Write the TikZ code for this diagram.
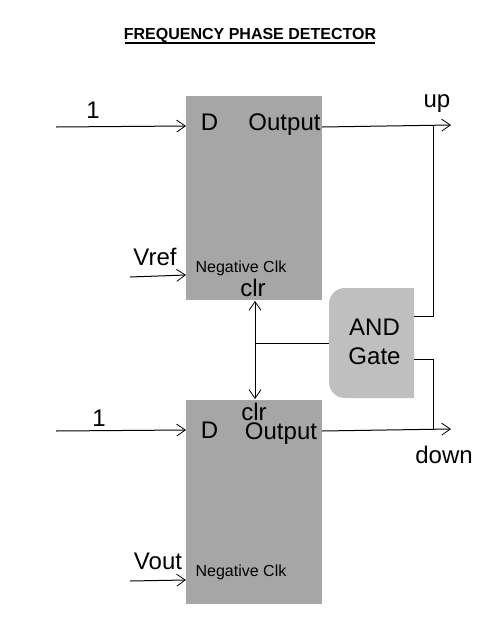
\documentclass[tikz,border=0pt]{standalone}
\usepackage{fontspec}
\setmainfont{Liberation Sans}
\usetikzlibrary{arrows.meta}
\definecolor{ffgray}{HTML}{A6A6A6}
\definecolor{gategray}{HTML}{BFBFBF}
\tikzset{
  ffbox/.style={fill=ffgray,minimum width=102pt,minimum height=153pt,inner sep=0pt},
  lbl/.style={inner sep=0pt,font=\fontsize{18}{20}\selectfont},
  lblsmall/.style={inner sep=0pt,font=\fontsize{12}{14}\selectfont},
  wire/.style={line width=0.75pt,draw=black},
  arrowwire/.style={wire,-{Straight Barb[length=6.5pt,width=9pt,line width=0.6pt]}},
}
\begin{document}
\begin{tikzpicture}[x=0.75pt,y=0.75pt,yscale=-1,xscale=1]
\useasboundingbox (0,0) rectangle (481,640);

%Title
\node (title) at (250,35) [inner sep=0pt,font=\fontsize{12}{14}\selectfont\bfseries] {FREQUENCY PHASE DETECTOR};
\draw [line width=0.9pt] (125,43) -- (375,43);

%Flip flops
\node (ffup) at (254,198) [ffbox] {};
\node (ffdown) at (254,502) [ffbox] {};

%AND gate, rounded on the left side only
\fill [gategray] (414,288) -- (345,288) .. controls (336,288) and (329,295) .. (329,304) -- (329,382) .. controls (329,391) and (336,398) .. (345,398) -- (414,398) -- cycle;
\node (gate) at (371.5,343) [minimum width=63.75pt,minimum height=82.5pt,inner sep=0pt] {};

%Free ends and junctions
\coordinate (inup) at (56,127);
\coordinate (inupend) at (186,126);
\coordinate (vrefstart) at (130,277);
\coordinate (vrefend) at (186,275);
\coordinate (outupstart) at (322,127);
\coordinate (outupend) at (451,125);
\coordinate (upjoin) at (433,125);
\coordinate (gateup) at (414,316);
\coordinate (gatedown) at (414,359);
\coordinate (downjoin) at (433,429.5);
\coordinate (outdownstart) at (322,431);
\coordinate (outdownend) at (451,429);
\coordinate (indown) at (56,431);
\coordinate (indownend) at (186,430);
\coordinate (voutstart) at (130,581);
\coordinate (voutend) at (186,580);
\coordinate (clrjoin) at (255,343);
\coordinate (clrtop) at (255,301);
\coordinate (clrbottom) at (255,399);

%Connectors
\draw [arrowwire] (inup) -- (inupend);
\draw [arrowwire] (vrefstart) -- (vrefend);
\draw [arrowwire] (outupstart) -- (outupend);
\draw [arrowwire] (indown) -- (indownend);
\draw [arrowwire] (voutstart) -- (voutend);
\draw [arrowwire] (outdownstart) -- (outdownend);
\draw [wire] (upjoin) -- (433,316) -- (gateup);
\draw [wire] (gatedown) -- (433,359) -- (downjoin);
\draw [arrowwire] (clrjoin) -- (clrtop);
\draw [arrowwire] (clrjoin) -- (clrbottom);
\draw [wire] (clrjoin) -- (gate.west);

%Text
\node (oneup) at (93,110) [lbl] {1};
\node (vref) at (155,257) [lbl] {Vref};
\node (dup) at (209.5,122.5) [lbl] {D};
\node (outputup) at (284.5,125) [lbl] {Output};
\node (clkup) at (241,268) [lblsmall] {Negative Clk};
\node (clrup) at (253,288) [lbl] {clr};
\node (up) at (437,104) [lbl] {up};
\node (andtxt) at (374.5,327) [lbl] {AND};
\node (gatetxt) at (374.5,356) [lbl] {Gate};
\node (clrdown) at (254,412) [lbl] {clr};
\node (onedown) at (99,418) [lbl] {1};
\node (ddown) at (209.5,430.5) [lbl] {D};
\node (outputdown) at (281,434) [lbl] {Output};
\node (down) at (444,455) [lbl] {down};
\node (vout) at (158,561) [lbl] {Vout};
\node (clkdown) at (241,572) [lblsmall] {Negative Clk};

\end{tikzpicture}
\end{document}
